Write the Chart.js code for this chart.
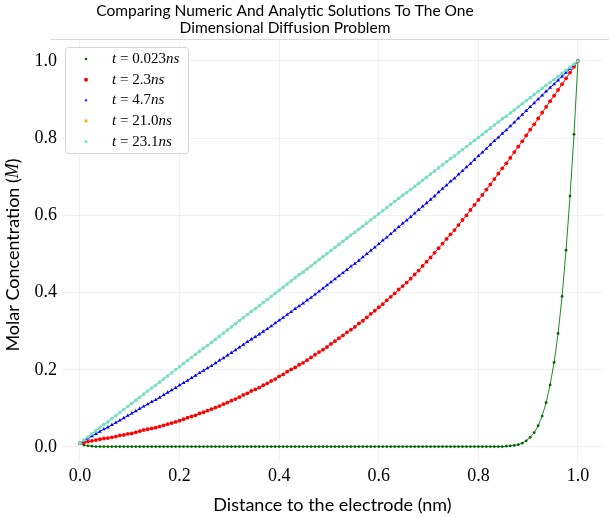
<!DOCTYPE html>
<html lang="en">
<head>
  <meta charset="UTF-8" />
  <title>Numeric vs Analytic Diffusion</title>
  <script src="https://cdn.jsdelivr.net/npm/chart.js"></script>
  <style>
    html, body { margin: 0; padding: 0; background: #fff; }
    #wrap { width: 609px; height: 518px; }
  </style>
</head>
<body>
  <div id="wrap"><canvas id="chart" width="609" height="518"></canvas></div>

  <script>
    // distance to the electrode (nm)
    const distance = [
      0, .008, .016, .024, .032, .04, .048, .056, .064, .072,
      .08, .088, .096, .104, .112, .12, .128, .136, .144, .152,
      .16, .168, .176, .184, .192, .2, .208, .216, .224, .232,
      .24, .248, .256, .264, .272, .28, .288, .296, .304, .312,
      .32, .328, .336, .344, .352, .36, .368, .376, .384, .392,
      .4, .408, .416, .424, .432, .44, .448, .456, .464, .472,
      .48, .488, .496, .504, .512, .52, .528, .536, .544, .552,
      .56, .568, .576, .584, .592, .6, .608, .616, .624, .632,
      .64, .648, .656, .664, .672, .68, .688, .696, .704, .712,
      .72, .728, .736, .744, .752, .76, .768, .776, .784, .792,
      .8, .808, .816, .824, .832, .84, .848, .856, .864, .872,
      .88, .888, .896, .904, .912, .92, .928, .936, .944, .952,
      .96, .968, .976, .984, .992, 1.0
    ];

    // molar concentration at each time
    const conc0023 = [
      .010, .005, .003, .002, .001, .001, .001, .001, .001, .001,
      .001, .001, .001, .001, .001, .001, .001, .001, .001, .001,
      .001, .001, .001, .001, .001, .001, .001, .001, .001, .001,
      .001, .001, .001, .001, .001, .001, .001, .001, .001, .001,
      .001, .001, .001, .001, .001, .001, .001, .001, .001, .001,
      .001, .001, .001, .001, .001, .001, .001, .001, .001, .001,
      .001, .001, .001, .001, .001, .001, .001, .001, .001, .001,
      .001, .001, .001, .001, .001, .001, .001, .001, .001, .001,
      .001, .001, .001, .001, .001, .001, .001, .001, .001, .001,
      .001, .001, .001, .001, .001, .001, .001, .001, .001, .001,
      .001, .001, .001, .001, .001, .001, .001, .002, .003, .004,
      .006, .010, .016, .025, .037, .055, .080, .115, .161, .219,
      .294, .39, .51, .65, .81, 1.0
    ];
    const conc23 = [
      .010, .011, .014, .016, .018, .020, .022, .023, .025, .027,
      .030, .031, .034, .035, .038, .041, .044, .046, .048, .050,
      .053, .056, .059, .062, .065, .068, .072, .076, .079, .082,
      .087, .090, .094, .098, .102, .106, .111, .115, .120, .124,
      .129, .135, .139, .145, .149, .154, .160, .165, .171, .176,
      .183, .188, .195, .201, .206, .213, .218, .225, .232, .239,
      .246, .252, .259, .267, .274, .282, .289, .297, .304, .311,
      .320, .327, .336, .345, .353, .362, .370, .380, .389, .398,
      .408, .417, .426, .436, .447, .457, .469, .480, .491, .503,
      .515, .527, .539, .551, .562, .575, .588, .600, .614, .627,
      .640, .653, .667, .680, .694, .708, .722, .735, .749, .764,
      .778, .792, .807, .822, .836, .851, .866, .881, .896, .910,
      .925, .940, .955, .970, .985, 1.000
    ];
    const conc47 = [
      .010, .016, .022, .028, .034, .040, .046, .051, .057, .063,
      .069, .075, .081, .087, .093, .099, .105, .111, .117, .122,
      .128, .135, .141, .147, .153, .160, .166, .172, .179, .185,
      .192, .198, .204, .210, .217, .224, .230, .237, .244, .251,
      .258, .265, .272, .279, .285, .292, .299, .306, .313, .321,
      .328, .335, .343, .350, .358, .365, .372, .380, .387, .395,
      .403, .411, .419, .427, .435, .443, .451, .459, .468, .475,
      .483, .492, .500, .509, .517, .526, .535, .543, .552, .561,
      .570, .579, .587, .596, .605, .614, .623, .632, .641, .650,
      .660, .669, .678, .688, .696, .706, .715, .725, .734, .744,
      .754, .763, .773, .783, .793, .802, .812, .821, .831, .841,
      .851, .861, .871, .881, .891, .901, .911, .921, .931, .940,
      .950, .960, .970, .980, .990, 1.000
    ];
    // 21.0 ns sits right under 23.1 ns in the picture
    const conc210 = [
      .010, .018, .026, .034, .042, .050, .058, .065, .073, .081,
      .089, .097, .105, .113, .121, .129, .137, .145, .153, .160,
      .168, .176, .184, .192, .200, .208, .216, .224, .232, .240,
      .248, .256, .263, .271, .279, .287, .295, .303, .311, .319,
      .327, .335, .343, .351, .358, .366, .374, .382, .390, .398,
      .406, .414, .422, .430, .438, .446, .453, .461, .469, .477,
      .485, .493, .501, .509, .517, .525, .533, .541, .549, .556,
      .564, .572, .580, .588, .596, .604, .612, .620, .628, .636,
      .644, .652, .659, .667, .675, .683, .691, .699, .707, .715,
      .723, .731, .739, .747, .754, .762, .770, .778, .786, .794,
      .802, .810, .818, .826, .834, .842, .850, .857, .865, .873,
      .881, .889, .897, .905, .913, .921, .929, .937, .945, .952,
      .960, .968, .976, .984, .992, 1.000
    ];
    const conc231 = [
      .010, .018, .026, .034, .042, .050, .058, .065, .073, .081,
      .089, .097, .105, .113, .121, .129, .137, .145, .153, .160,
      .168, .176, .184, .192, .200, .208, .216, .224, .232, .240,
      .248, .256, .263, .271, .279, .287, .295, .303, .311, .319,
      .327, .335, .343, .351, .358, .366, .374, .382, .390, .398,
      .406, .414, .422, .430, .438, .446, .453, .461, .469, .477,
      .485, .493, .501, .509, .517, .525, .533, .541, .549, .556,
      .564, .572, .580, .588, .596, .604, .612, .620, .628, .636,
      .644, .652, .659, .667, .675, .683, .691, .699, .707, .715,
      .723, .731, .739, .747, .754, .762, .770, .778, .786, .794,
      .802, .810, .818, .826, .834, .842, .850, .857, .865, .873,
      .881, .889, .897, .905, .913, .921, .929, .937, .945, .952,
      .960, .968, .976, .984, .992, 1.000
    ];

    const times = ['0.023', '2.3', '4.7', '21.0', '23.1'];
    const tickValues = [0, 0.2, 0.4, 0.6, 0.8, 1.0];
    const titleLines = ['Comparing Numeric And Analytic Solutions To The One', 'Dimensional Diffusion Problem'];

    const serif = '"Liberation Serif", "DejaVu Serif", serif';
    const sans = 'Lato, "Open Sans", sans-serif';

    function points(ys) {
      return distance.map((x, i) => ({ x: x, y: ys[i] }));
    }

    function series(i, ys, line, dot, style, r, legendR) {
      return {
        label: 't = ' + times[i] + 'ns',
        data: points(ys),
        borderColor: line,
        borderWidth: 1,
        pointStyle: style,
        pointRadius: r,
        pointBackgroundColor: dot,
        pointBorderWidth: 0,
        tension: 0,
        order: 5 - i,
        legendR: legendR
      };
    }

    // title and y axis title (with the italic M)
    const titles = {
      id: 'titles',
      afterDraw(chart) {
        const ctx = chart.ctx;
        ctx.save();
        ctx.fillStyle = '#000';
        ctx.textAlign = 'center';
        ctx.textBaseline = 'middle';
        ctx.font = '15.5px ' + sans;
        ctx.fillText(titleLines[0], 285, 11);
        ctx.fillText(titleLines[1], 285, 28);

        const parts = [
          ['Molar Concentration (', '18px ' + sans],
          ['M', 'italic 18px ' + serif],
          [')', '18px ' + sans]
        ];
        let total = 0;
        parts.forEach(p => { ctx.font = p[1]; total += ctx.measureText(p[0]).width; });
        ctx.translate(13, 255);
        ctx.rotate(-Math.PI / 2);
        ctx.textAlign = 'left';
        let x = -total / 2;
        parts.forEach(p => {
          ctx.font = p[1];
          ctx.fillText(p[0], x, 0);
          x += ctx.measureText(p[0]).width;
        });
        ctx.restore();
      }
    };

    // thin grey line under the title, the legend box
    const legendBox = {
      id: 'legendBox',
      afterDraw(chart) {
        const ctx = chart.ctx;
        ctx.save();
        ctx.strokeStyle = '#d9d9d9';
        ctx.lineWidth = 1;
        ctx.beginPath();
        ctx.moveTo(50, 39.5);
        ctx.lineTo(609, 39.5);
        ctx.stroke();

        const x0 = 65.5, y0 = 47.5, w = 123, h = 106, r = 3;
        ctx.beginPath();
        ctx.moveTo(x0 + r, y0);
        ctx.arcTo(x0 + w, y0, x0 + w, y0 + h, r);
        ctx.arcTo(x0 + w, y0 + h, x0, y0 + h, r);
        ctx.arcTo(x0, y0 + h, x0, y0, r);
        ctx.arcTo(x0, y0, x0 + w, y0, r);
        ctx.closePath();
        ctx.fillStyle = 'rgba(255,255,255,0.8)';
        ctx.fill();
        ctx.strokeStyle = '#d6d6d6';
        ctx.stroke();

        chart.data.datasets.forEach((ds, i) => {
          const y = y0 + 11.5 + i * 20.65;
          ctx.fillStyle = ds.pointBackgroundColor;
          Chart.helpers.drawPoint(ctx, {
            pointStyle: ds.pointStyle, radius: ds.legendR, rotation: 0, borderWidth: 0
          }, 86, y);

          const pieces = [
            ['t', 'italic 15px ' + serif],
            [' = ' + times[i], '15px ' + serif],
            ['ns', 'italic 15px ' + serif]
          ];
          let tx = 112;
          ctx.fillStyle = '#000';
          ctx.textBaseline = 'middle';
          pieces.forEach(p => {
            ctx.font = p[1];
            ctx.fillText(p[0], tx, y);
            tx += ctx.measureText(p[0]).width;
          });
        });
        ctx.restore();
      }
    };

    const gridColor = 'rgba(0,0,0,0.05)';

    new Chart(document.getElementById('chart'), {
      type: 'line',
      data: {
        datasets: [
          series(0, conc0023, '#1e8c1e', '#006400', 'circle', 1.4, 1.3),
          series(1, conc23, '#ff0000', '#ff0000', 'circle', 1.9, 2),
          series(2, conc47, '#0000ff', '#0000ff', 'triangle', 2.2, 1.7),
          series(3, conc210, '#ffa500', '#ffa500', 'rect', 1.6, 2),
          series(4, conc231, '#60d5a6', '#6fe3d2', 'circle', 1.8, 1.6)
        ]
      },
      options: {
        responsive: false,
        animation: false,
        layout: { padding: { top: 40, right: 6 } },
        plugins: {
          legend: { display: false },
          tooltip: { enabled: false },
          title: { display: false }
        },
        scales: {
          x: {
            type: 'linear',
            min: -0.0361,
            max: 1.0502,
            afterBuildTicks: s => { s.ticks = tickValues.map(v => ({ value: v })); },
            afterFit: s => { s.height = 56; },
            ticks: {
              color: '#000',
              font: { family: serif, size: 18 },
              padding: 3,
              maxRotation: 0,
              callback: v => v.toFixed(1)
            },
            grid: { color: gridColor, drawTicks: false },
            border: { display: false },
            title: {
              display: true,
              text: 'Distance to the electrode (nm)',
              color: '#000',
              font: { family: sans, size: 18 },
              padding: { top: 0, bottom: 2 }
            }
          },
          y: {
            type: 'linear',
            min: -0.0389,
            max: 1.0544,
            afterBuildTicks: s => { s.ticks = tickValues.map(v => ({ value: v })); },
            afterFit: s => { s.width = 62; },
            ticks: {
              color: '#000',
              font: { family: serif, size: 18 },
              padding: 5,
              callback: v => v.toFixed(1)
            },
            grid: { color: gridColor, drawTicks: false },
            border: { display: false }
          }
        }
      },
      plugins: [titles, legendBox]
    });
  </script>
</body>
</html>
